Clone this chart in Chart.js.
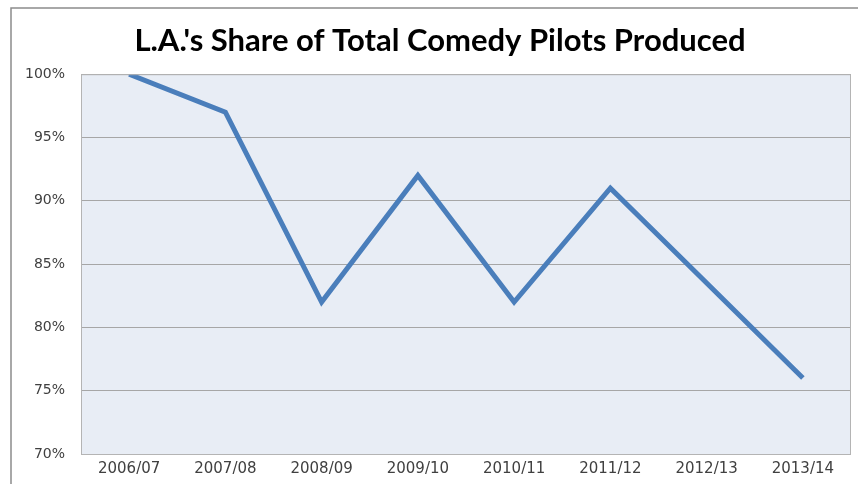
<!DOCTYPE html>
<html>
<head>
<meta charset="utf-8">
<title>L.A.'s Share of Total Comedy Pilots Produced</title>
<script src="https://cdn.jsdelivr.net/npm/chart.js@4"></script>
<style>
    html, body { margin: 0; padding: 0; background: #fff; }
    #wrap { width: 858px; height: 484px; }
</style>
</head>
<body>
<div id="wrap"><canvas id="pilotChart" width="858" height="484"></canvas></div>
<script>
// Chart data
const seasons = ['2006/07', '2007/08', '2008/09', '2009/10', '2010/11', '2011/12', '2012/13', '2013/14'];
const laShare = [100, 97, 82, 92, 82, 91, 83.5, 76];
const yTicks = [70, 75, 80, 85, 90, 95, 100];

// Plot background, plot border and the outer frame
const framePlugin = {
    id: 'frame',
    afterLayout(chart) {
        // the original title sits a little right of the canvas centre
        if (chart.titleBlock) {
            chart.titleBlock.left += 9;
            chart.titleBlock.right += 9;
        }
    },
    beforeDraw(chart) {
        const { ctx, chartArea: a } = chart;
        ctx.save();
        ctx.fillStyle = '#fff';
        ctx.fillRect(0, 0, chart.width, chart.height);
        ctx.strokeStyle = '#8c8c8c';
        ctx.lineWidth = 1.5;
        ctx.beginPath();
        ctx.moveTo(11, chart.height);
        ctx.lineTo(11, 8);
        ctx.lineTo(chart.width, 8);
        ctx.stroke();
        ctx.fillStyle = '#e8edf5';
        ctx.fillRect(a.left, a.top, a.right - a.left, a.bottom - a.top);
        ctx.restore();
    },
    afterDatasetsDraw(chart) {
        const { ctx, chartArea: a } = chart;
        ctx.save();
        ctx.strokeStyle = '#b4b4b4';
        ctx.lineWidth = 1;
        ctx.strokeRect(a.left + 0.5, a.top + 0.5, a.right - a.left - 1, a.bottom - a.top);
        ctx.restore();
    }
};

document.addEventListener('DOMContentLoaded', () => {
    const ctx = document.getElementById('pilotChart').getContext('2d');
    new Chart(ctx, {
        type: 'line',
        data: {
            labels: seasons,
            datasets: [{
                label: "L.A.'s share",
                data: laShare,
                borderColor: '#4a7ebb',
                borderWidth: 5,
                pointRadius: 0,
                tension: 0,
                fill: false
            }]
        },
        options: {
            responsive: false,
            animation: false,
            layout: { padding: { left: 11, right: 7, top: 0, bottom: 0 } },
            plugins: {
                legend: { display: false },
                tooltip: { enabled: false },
                title: {
                    display: true,
                    text: "L.A.'s Share of Total Comedy Pilots Produced",
                    color: '#000',
                    font: { family: 'Lato', size: 31, weight: 'bold' },
                    padding: { top: 22, bottom: 15 }
                }
            },
            scales: {
                x: {
                    offset: true,
                    grid: { display: false, drawTicks: false },
                    border: { display: false },
                    ticks: {
                        color: '#404040',
                        padding: 6,
                        maxRotation: 0,
                        font: { family: 'DejaVu Sans', size: 15 }
                    }
                },
                y: {
                    min: 70,
                    max: 100,
                    afterFit(scale) { scale.width = 70; },
                    afterBuildTicks(scale) { scale.ticks = yTicks.map(v => ({ value: v })); },
                    grid: { color: '#a6a6a6', lineWidth: 1, drawTicks: false },
                    border: { display: false },
                    ticks: {
                        color: '#404040',
                        padding: 16,
                        font: { family: 'DejaVu Sans', size: 14 },
                        callback: v => v + '%'
                    }
                }
            }
        },
        plugins: [framePlugin]
    });
});
</script>
</body>
</html>
